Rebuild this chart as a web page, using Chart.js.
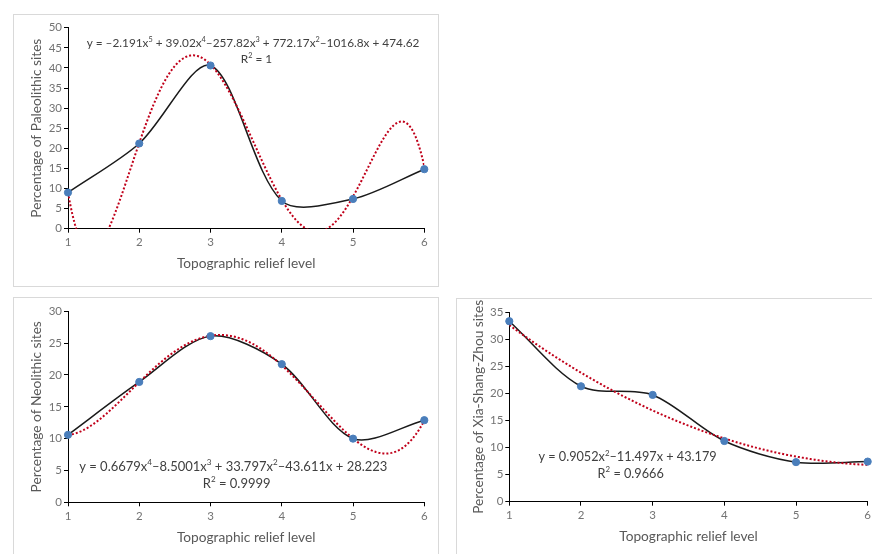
<!DOCTYPE html>
<html>
<head>
<meta charset="utf-8">
<script src="https://cdn.jsdelivr.net/npm/chart.js@4.4.1/dist/chart.umd.min.js"></script>
<style>
  html, body { margin: 0; padding: 0; background: #fff; width: 872px; height: 554px; overflow: hidden; position: relative; }
  .frame { position: absolute; border: 1px solid #d9d9d9; box-sizing: border-box; }
  canvas { position: absolute; }
</style>
</head>
<body>
<div class="frame" style="left:13px;top:14px;width:426px;height:273px"></div>
<div class="frame" style="left:13px;top:297px;width:426px;height:280px"></div>
<div class="frame" style="left:456px;top:298px;width:440px;height:280px"></div>
<canvas id="c1" width="425" height="272" style="left:13px;top:14px"></canvas>
<canvas id="c2" width="425" height="257" style="left:13px;top:297px"></canvas>
<canvas id="c3" width="425" height="256" style="left:456px;top:298px"></canvas>
<script>
// Relief levels shared by all three panels
const reliefLevels = [1, 2, 3, 4, 5, 6];

// Share of sites (%) at each relief level
const paleolithicPct = [9.0, 21.2, 40.6, 6.9, 7.4, 14.8];
const neolithicPct   = [10.6, 18.9, 26.1, 21.7, 10.0, 12.9];
const xszPct         = [33.3, 21.3, 19.7, 11.2, 7.3, 7.4];

// Polynomial trendline coefficients, highest power first
const paleolithicFit = [-2.191, 39.02, -257.82, 772.17, -1016.8, 474.62];
const neolithicFit   = [0.6679, -8.5001, 33.797, -43.611, 28.223];
const xszFit         = [0.9052, -11.497, 43.179];

// Goodness of fit printed under each equation
const paleolithicR2 = '1';
const neolithicR2   = '0.9999';
const xszR2         = '0.9666';

// Axis ranges
const paleolithicYMax = 50;
const neolithicYMax   = 30;
const xszYMax         = 35;

const xTitle = 'Topographic relief level';
const FONT = 'Lato, "Open Sans", sans-serif';

function evalPoly(coefs, x) {
  return coefs.reduce((acc, c) => acc * x + c, 0);
}

function trendPoints(coefs) {
  const pts = [];
  for (let i = 0; i <= 250; i++) {
    const x = reliefLevels[0] + (reliefLevels[reliefLevels.length - 1] - reliefLevels[0]) * i / 250;
    pts.push({ x, y: evalPoly(coefs, x) });
  }
  return pts;
}

// Build the equation text in the spreadsheet style: "y = ax^n + bx^(n-1)–c..."
function equationSegments(coefs) {
  const n = coefs.length - 1;
  const segs = [{ t: 'y = ' }];
  coefs.forEach((c, i) => {
    const p = n - i;
    let s = i === 0 ? (c < 0 ? '–' : '') : (c < 0 ? '–' : ' + ');
    s += String(Math.abs(c));
    if (p >= 1) s += 'x';
    segs.push({ t: s });
    if (p >= 2) segs.push({ t: String(p), sup: true });
  });
  return segs;
}

function r2Segments(r2) {
  return [{ t: 'R' }, { t: '2', sup: true }, { t: ' = ' + r2 }];
}

function drawRich(ctx, segs, cx, cy, size, color) {
  const base = size + 'px ' + FONT;
  const sup = (size * 0.62).toFixed(1) + 'px ' + FONT;
  let w = 0;
  segs.forEach(s => { ctx.font = s.sup ? sup : base; w += ctx.measureText(s.t).width; });
  let x = cx - w / 2;
  ctx.fillStyle = color;
  ctx.textBaseline = 'middle';
  ctx.textAlign = 'left';
  segs.forEach(s => {
    ctx.font = s.sup ? sup : base;
    ctx.fillText(s.t, x, s.sup ? cy - size * 0.33 : cy);
    x += ctx.measureText(s.t).width;
  });
}

const labelPlugin = {
  id: 'trendLabel',
  afterDatasetsDraw(chart, args, opts) {
    const ctx = chart.ctx;
    ctx.save();
    drawRich(ctx, opts.eq, opts.eqX, opts.eqY, opts.size, opts.color);
    drawRich(ctx, opts.r2, opts.r2X, opts.r2Y, opts.size, opts.color);
    ctx.restore();
  }
};

function makeChart(id, values, coefs, r2, yMax, yTitle, geo) {
  const pts = reliefLevels.map((x, i) => ({ x, y: values[i] }));
  return new Chart(document.getElementById(id), {
    type: 'line',
    data: {
      datasets: [
        {
          data: pts, showLine: false, order: 0, clip: false,
          pointRadius: 3.6, pointBackgroundColor: '#4a7ebb', pointBorderColor: '#4a7ebb', pointBorderWidth: 1
        },
        {
          data: trendPoints(coefs), order: 1,
          borderColor: '#c0001a', borderWidth: 2, borderDash: [2, 2], pointRadius: 0, tension: 0
        },
        {
          data: pts, order: 2, clip: false,
          borderColor: '#1a1a1a', borderWidth: 1.5, pointRadius: 0, tension: 0.3
        }
      ]
    },
    options: {
      responsive: false,
      animation: false,
      layout: { padding: { left: 0, top: geo.top, right: geo.right, bottom: 0 } },
      plugins: {
        legend: { display: false },
        tooltip: { enabled: false },
        trendLabel: {
          eq: equationSegments(coefs), r2: r2Segments(r2),
          eqX: geo.eqX, eqY: geo.eqY, r2X: geo.r2X, r2Y: geo.r2Y,
          size: geo.eqSize, color: '#404040'
        }
      },
      scales: {
        x: {
          type: 'linear', min: 1, max: 6,
          ticks: { stepSize: 1, color: '#737373', font: { family: FONT, size: 11.5 }, padding: 3, maxRotation: 0 },
          grid: { display: true, drawOnChartArea: false, drawTicks: true, tickLength: 4, color: '#000', lineWidth: 1 },
          border: { display: true, color: '#000', width: 1 },
          title: { display: true, text: xTitle, color: '#595959', font: { family: FONT, size: 13.7 }, padding: { top: 0, bottom: geo.xTitleBottom } },
          afterFit: s => { s.height = geo.xH; }
        },
        y: {
          min: 0, max: yMax,
          ticks: { stepSize: 5, color: '#737373', font: { family: FONT, size: 11.5 }, padding: 2 },
          grid: { display: true, drawOnChartArea: false, drawTicks: true, tickLength: 4, color: '#000', lineWidth: 1 },
          border: { display: true, color: '#000', width: 1 },
          title: { display: true, text: yTitle, color: '#595959', font: { family: FONT, size: 13.7 }, padding: { top: geo.yTitleLeft, bottom: 0 } },
          afterFit: s => { s.width = geo.yW; }
        }
      }
    },
    plugins: [labelPlugin]
  });
}

makeChart('c1', paleolithicPct, paleolithicFit, paleolithicR2, paleolithicYMax, 'Percentage of Paleolithic sites', {
  top: 13.7, right: 13.7, yW: 55, xH: 57.3, xTitleBottom: 14.6, yTitleLeft: 15.6,
  eqX: 240, eqY: 29.5, r2X: 243.5, r2Y: 45.5, eqSize: 11.8
});
makeChart('c2', neolithicPct, neolithicFit, neolithicR2, neolithicYMax, 'Percentage of Neolithic sites', {
  top: 14.3, right: 13.7, yW: 55, xH: 51.7, xTitleBottom: 8.6, yTitleLeft: 15.6,
  eqX: 220.3, eqY: 169.7, r2X: 223.7, r2Y: 187, eqSize: 13
});
makeChart('c3', xszPct, xszFit, xszR2, xszYMax, 'Percentage of Xia-Shang-Zhou sites', {
  top: 14, right: 13.3, yW: 53.3, xH: 52.3, xTitleBottom: 9.1, yTitleLeft: 14.6,
  eqX: 171.5, eqY: 159.3, r2X: 174.7, r2Y: 176, eqSize: 12.7
});
</script>
</body>
</html>
